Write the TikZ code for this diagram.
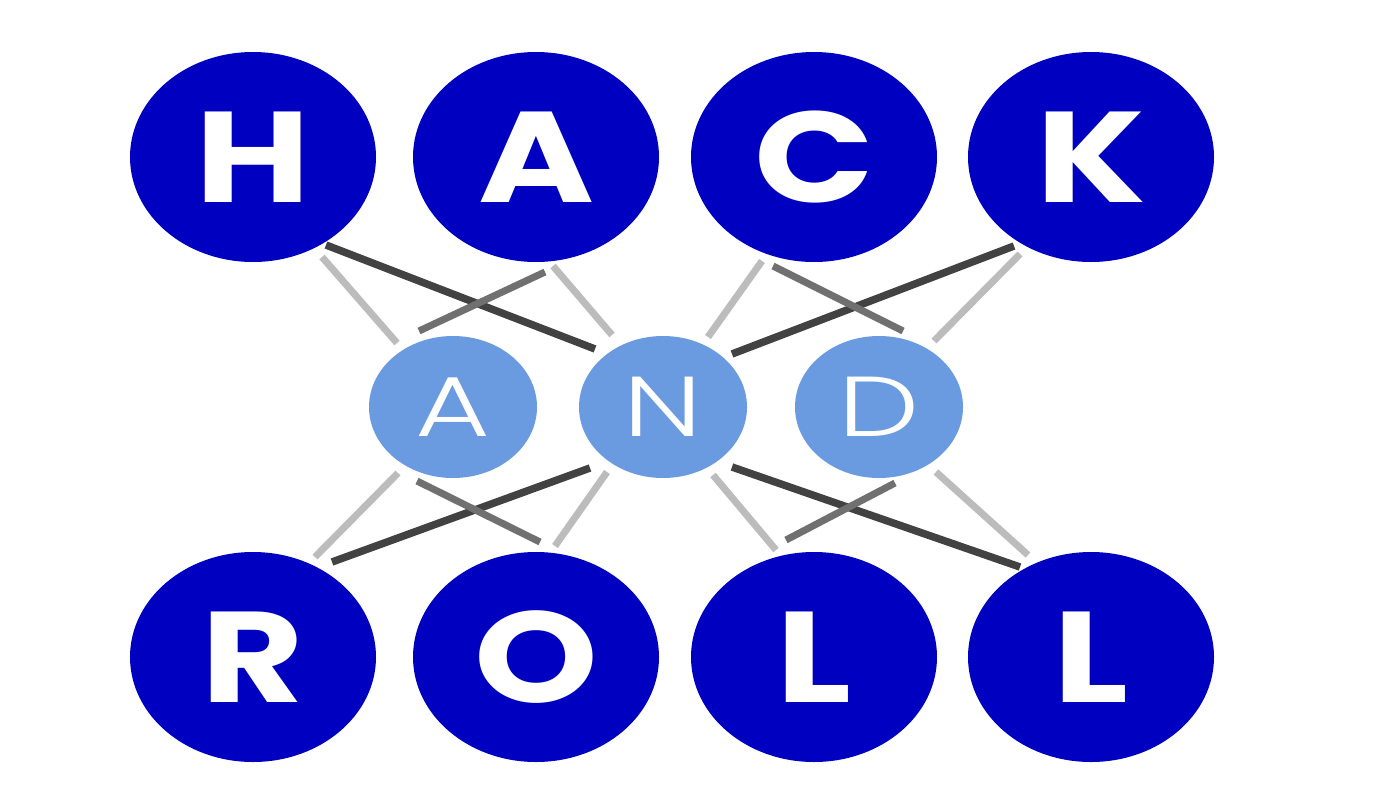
\documentclass[tikz,border=0pt]{standalone}
\usepackage{fontspec}
\usetikzlibrary{shapes.geometric,calc}
\newfontfamily\boldfont{Poppins}[UprightFont=* Bold, FakeStretch=1.22]
\newfontfamily\lightfont{Poppins}[UprightFont=* Light, FakeStretch=1.35]
\definecolor{hackblue}{RGB}{0,0,192}
\definecolor{andblue}{RGB}{106,155,224}
\definecolor{linedark}{RGB}{66,66,66}
\definecolor{linemid}{RGB}{112,112,112}
\definecolor{linelight}{RGB}{188,188,188}
\begin{document}
\begin{tikzpicture}[x=1pt,y=-1pt]
    \tikzstyle{letter}=[ellipse, fill=hackblue, minimum width=246pt, minimum height=210pt, inner sep=0pt, outer sep=0pt, text=white, font=\boldfont\fontsize{129}{129}\selectfont]
    \tikzstyle{andletter}=[ellipse, fill=andblue, minimum width=168pt, minimum height=142pt, inner sep=0pt, outer sep=0pt, text=white, font=\lightfont\fontsize{85}{85}\selectfont]
    \tikzstyle{heavy}=[draw=linedark, line width=7.5pt]
    \tikzstyle{mid}=[draw=linemid, line width=7pt]
    \tikzstyle{faint}=[draw=linelight, line width=7pt]
    \fill[white] (0,0) rectangle (1384,809);
    % top row
    \node[letter] (h) at (253,157) {H};
    \node[letter] (a) at (536,157) {A};
    \node[letter] (c) at (814,157) {C};
    \node[letter] (k) at (1091,157) {K};
    % and
    \node[andletter] (am) at (453,407) {A};
    \node[andletter] (nm) at (663,407) {N};
    \node[andletter] (dm) at (879,407) {D};
    % bottom row
    \node[letter] (r) at (253,657) {R};
    \node[letter] (o) at (536,657) {O};
    \node[letter] (l1) at (814,657) {L};
    \node[letter] (l2) at (1091,657) {L};
    % links
    \draw[heavy] ($(h.center)+(73,88)$) -- ($(nm.center)+(-68,-58)$);
    \draw[heavy] ($(k.center)+(-77,89)$) -- ($(nm.center)+(69,-53)$);
    \draw[heavy] ($(nm.center)+(-73,61)$) -- ($(r.center)+(79,-95)$);
    \draw[heavy] ($(nm.center)+(69,60)$) -- ($(l2.center)+(-71,-90)$);
    \draw[mid] ($(a.center)+(9,115)$) -- ($(am.center)+(-34,-76)$);
    \draw[mid] ($(c.center)+(-41,109)$) -- ($(dm.center)+(24,-76)$);
    \draw[mid] ($(am.center)+(-36,74)$) -- ($(o.center)+(4,-115)$);
    \draw[mid] ($(dm.center)+(16,76)$) -- ($(l1.center)+(-28,-117)$);
    \draw[faint] ($(h.center)+(69,100)$) -- ($(am.center)+(-56,-64)$);
    \draw[faint] ($(a.center)+(17,109)$) -- ($(nm.center)+(-51,-72)$);
    \draw[faint] ($(c.center)+(-52,104)$) -- ($(nm.center)+(45,-70)$);
    \draw[faint] ($(k.center)+(-71,97)$) -- ($(dm.center)+(55,-66)$);
    \draw[faint] ($(am.center)+(-55,66)$) -- ($(r.center)+(62,-100)$);
    \draw[faint] ($(nm.center)+(-56,65)$) -- ($(o.center)+(19,-111)$);
    \draw[faint] ($(nm.center)+(50,68)$) -- ($(l1.center)+(-38,-107)$);
    \draw[faint] ($(dm.center)+(57,65)$) -- ($(l2.center)+(-63,-102)$);
  \end{tikzpicture}
\end{document}
